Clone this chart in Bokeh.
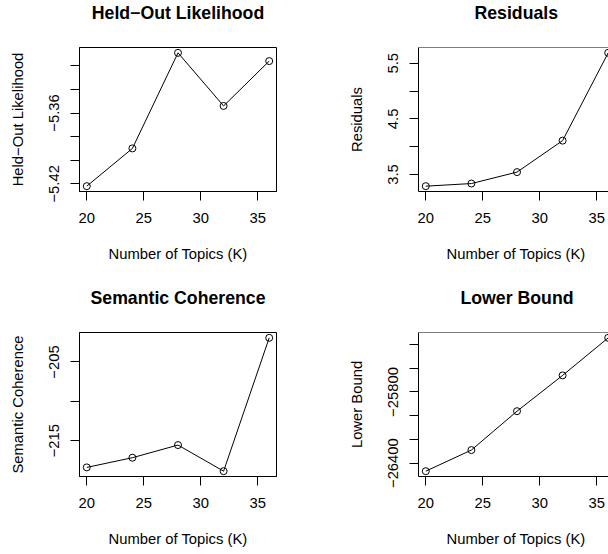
from bokeh.plotting import figure
from bokeh.layouts import column, row
from bokeh.models import Range1d, FixedTicker, Span, Title
from bokeh.embed import file_html
from bokeh.resources import INLINE

# searchK diagnostics by number of topics
K = [20, 24, 28, 32, 36]
heldout = [-5.422, -5.390, -5.309, -5.354, -5.316]
residuals = [3.290, 3.337, 3.543, 4.109, 5.688]
semcoh = [-218.40, -217.17, -215.56, -218.88, -201.93]
lbound = [-26468, -26290, -25962, -25660, -25343]

x_ticks = [20, 25, 30, 35]
heldout_ticks = [-5.42, -5.40, -5.38, -5.36, -5.34, -5.32]
heldout_tick_labels = {-5.42: "\u22125.42", -5.36: "\u22125.36"}
resid_ticks = [3.5, 4.0, 4.5, 5.0, 5.5]
resid_tick_labels = {3.5: "3.5", 4.5: "4.5", 5.5: "5.5"}
semcoh_ticks = [-215, -210, -205]
semcoh_tick_labels = {-215: "\u2212215", -205: "\u2212205"}
lbound_ticks = [-26400, -26200, -26000, -25800, -25600, -25400]
lbound_tick_labels = {-26400: "\u221226400", -25800: "\u221225800"}

XLABEL = "Number of Topics (K)"
FONT = "Liberation Sans"
BASE = "14.8px"
TITLE = "17.7px"

# frame geometry (pixels)
LEFT_W, RIGHT_W = 338, 270
TOP_H, BOT_H = 285, 269
LEFT_FRAME_W = 197
RIGHT_FRAME_W = 190


def padded(lo, hi):
    d = 0.04 * (hi - lo)
    return lo - d, hi + d


def spacer(gap):
    # empty side panel used to push the next panel away from the frame
    return Title(text=" ", text_font_size="1px", standoff=gap)


def panel(values, title, ylabel, yticks, ylabels, right_col, bottom_row,
          title_offset, xlabel_offset):
    x0, x1 = padded(min(K), max(K))
    if right_col:
        # same x scale as the left column; the frame is cut at the page edge
        x1 = x0 + RIGHT_FRAME_W * (x1 - x0) / LEFT_FRAME_W
    y0, y1 = padded(min(values), max(values))

    p = figure(
        width=RIGHT_W if right_col else LEFT_W,
        height=BOT_H if bottom_row else TOP_H,
        x_range=Range1d(x0, x1),
        y_range=Range1d(y0, y1),
        output_backend="svg",
        toolbar_location=None,
        min_border_left=80 if right_col else 79,
        min_border_right=0 if right_col else LEFT_W - 79 - LEFT_FRAME_W,
        min_border_top=47,
        min_border_bottom=78 if bottom_row else 94,
        background_fill_color="white",
        border_fill_color="white",
    )
    p.xgrid.visible = False
    p.ygrid.visible = False

    # main title, lifted above the frame by a spacer
    p.add_layout(spacer(20), "above")
    p.title.text = title
    p.title.text_font = FONT
    p.title.text_font_style = "bold"
    p.title.text_font_size = TITLE
    p.title.text_color = "black"
    p.title.vertical_align = "top"
    p.title.standoff = 0
    if right_col:
        p.title.align = "left"
        p.title.offset = title_offset
    else:
        p.title.align = "center"

    # x axis label, placed below the tick labels
    p.add_layout(spacer(17), "below")
    xlab = Title(text=XLABEL, text_font=FONT, text_font_size=BASE,
                 text_font_style="normal", text_color="black",
                 vertical_align="top", standoff=0)
    if right_col:
        xlab.align = "left"
        xlab.offset = xlabel_offset
    else:
        xlab.align = "center"
    p.add_layout(xlab, "below")

    if right_col:
        p.outline_line_color = None
        p.add_layout(Span(location=y1, dimension="width", line_color="black", line_width=1))
    else:
        p.outline_line_color = "black"
        p.outline_line_alpha = 1.0
        p.outline_line_width = 1

    for ax in (p.xaxis[0], p.yaxis[0]):
        ax.axis_line_color = "black"
        ax.major_tick_line_color = "black"
        ax.minor_tick_line_color = None
        ax.major_tick_in = 0
        ax.major_tick_out = 9
        ax.major_label_text_font = FONT
        ax.major_label_text_font_size = BASE
        ax.major_label_text_color = "black"
        ax.axis_label_text_font = FONT
        ax.axis_label_text_font_size = BASE
        ax.axis_label_text_font_style = "normal"
        ax.axis_label_text_color = "black"

    p.xaxis.ticker = FixedTicker(ticks=x_ticks)
    p.xaxis.major_label_standoff = 12

    p.yaxis.ticker = FixedTicker(ticks=yticks)
    p.yaxis.major_label_overrides = {t: ylabels.get(t, "") for t in yticks}
    p.yaxis.major_label_orientation = "vertical"
    p.yaxis.major_label_standoff = 11
    p.yaxis.axis_label = ylabel
    p.yaxis.axis_label_standoff = 21

    p.line(K, values, line_color="black", line_width=1)
    p.scatter(K, values, marker="circle", size=7, fill_color=None,
              line_color="black", line_width=1)
    return p


p1 = panel(heldout, "Held\u2212Out Likelihood", "Held\u2212Out Likelihood",
           heldout_ticks, heldout_tick_labels, False, False, 0, 0)
p2 = panel(residuals, "Residuals", "Residuals",
           resid_ticks, resid_tick_labels, True, False, 56, 28)
p3 = panel(semcoh, "Semantic Coherence", "Semantic Coherence",
           semcoh_ticks, semcoh_tick_labels, False, True, 0, 0)
p4 = panel(lbound, "Lower Bound", "Lower Bound",
           lbound_ticks, lbound_tick_labels, True, True, 42, 28)

layout = column(row(p1, p2), row(p3, p4))

with open("out.html", "w") as f:
    f.write(file_html(layout, INLINE))
